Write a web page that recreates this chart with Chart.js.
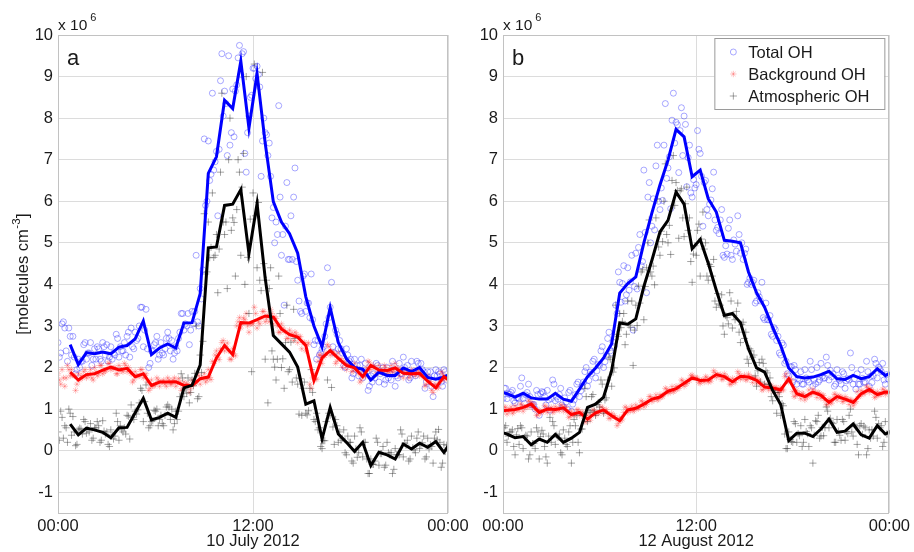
<!DOCTYPE html>
<html>
<head>
<meta charset="utf-8">
<script src="https://cdn.jsdelivr.net/npm/chart.js@4.4.0/dist/chart.umd.min.js"></script>
<style>
  html, body { margin: 0; padding: 0; background: #fff; }
  #wrap { position: relative; width: 914px; height: 552px; overflow: hidden; }
  canvas { position: absolute; top: 0; }
  #panel-a { left: 0; width: 480px; height: 552px; }
  #panel-b { left: 455px; width: 459px; height: 552px; }
</style>
</head>
<body>
<div id="wrap">
  <canvas id="panel-a" width="480" height="552"></canvas>
  <canvas id="panel-b" width="459" height="552"></canvas>
</div>
<script>
// half-hour means, centred on hh:15 / hh:45 (first slot -00:15, last 24:15)
const halfHours = Array.from({ length: 50 }, (_, i) => -0.25 + 0.5 * i);
// raw samples every 10 minutes, two interleaved runs: hh:05, hh:15 ... and hh:00, hh:10 ...
const rawTimes05 = Array.from({ length: 144 }, (_, i) => (5 + 10 * i) / 60);
const rawTimes00 = Array.from({ length: 144 }, (_, i) => (10 * i) / 60);

const xTicks = [0, 12, 24];
const xTickLabels = ['00:00', '12:00', '00:00'];
const yTicks = [-1, 0, 1, 2, 3, 4, 5, 6, 7, 8, 9, 10];

// ---- 10 July 2012 (x 10^6 molecules cm-3) ----
const totalA = [null, null, 2.55, 2.07, 2.36, 2.33, 2.37, 2.33, 2.49, 2.53, 2.69, 3.12, 2.31, 2.47, 2.57, 2.47,
  3.07, 3.08, 3.78, 6.67, 7.07, 8.43, 8.23, 9.37, 7.76, 9.07, 7.4, 5.99, 5.5, 5.22, 4.75, 3.7, 3.0, 2.5, 3.44,
  2.6, 2.21, 2.0, 1.96, 1.7, 1.89, 1.81, 1.81, 1.99, 1.9, 2.0, 1.76, 1.72, 1.77, 1.86];
const backgroundA = [null, null, 1.89, 1.70, 1.83, 1.85, 1.94, 2.01, 1.94, 1.98, 1.78, 1.85, 1.57, 1.65, 1.65, 1.66,
  1.57, 1.57, 1.73, 1.77, 2.23, 2.53, 2.31, 3.08, 3.07, 3.15, 3.24, 3.21, 2.93, 2.79, 2.73, 2.53, 1.69, 2.23, 2.41,
  2.22, 2.05, 1.99, 1.78, 2.05, 1.94, 1.93, 1.99, 1.86, 1.85, 1.86, 1.67, 1.51, 1.78, 1.65];
const atmosA = [null, null, 0.64, 0.38, 0.54, 0.50, 0.44, 0.31, 0.55, 0.56, 0.91, 1.26, 0.74, 0.80, 0.90, 0.80,
  1.51, 1.57, 2.06, 4.88, 4.90, 5.90, 5.93, 6.28, 4.74, 5.94, 4.15, 2.77, 2.57, 2.37, 2.01, 1.12, 1.20, 0.28, 1.04,
  0.40, 0.20, -0.02, 0.20, -0.36, -0.04, -0.10, -0.20, 0.16, 0.04, 0.18, 0.08, 0.22, -0.04, 0.25];

const totalRawA05 = [
  2.25, 3.05, 2.95, 2.15, 2.75, 2.75, 1.85, 2.2, 2.15, 2.55, 2.2, 2.35,
  2.05, 2.45, 2.5, 2.2, 2.6, 2.3, 2.15, 2.5, 2.35, 2.8, 2.25, 2.4,
  2.6, 2.75, 2.25, 2.5, 2.85, 2.7, 3.45, 2.5, 3.4, 2.0, 2.4, 2.55,
  2.75, 2.3, 2.35, 2.45, 2.85, 2.4, 2.2, 2.5, 2.7, 3.3, 2.9, 3.0,
  2.55, 3.35, 3.35, 3.1, 3.9, 4.35, 5.9, 7.45, 6.65, 6.75, 7.2, 7.25,
  9.55, 8.65, 7.1, 7.35, 8.7, 8.65, 9.45, 9.05, 9.6, 6.7, 8.05, 8.55,
  9.2, 9.25, 8.75, 7.45, 7.65, 7.1, 6.6, 5.85, 5.5, 8.3, 4.7, 3.5,
  6.45, 4.6, 4.6, 6.8, 4.1, 3.35, 4.2, 3.35, 3.55, 4.25, 2.55, 2.2,
  2.3, 2.45, 2.75, 4.4, 3.45, 2.5, 2.9, 2.45, 2.45, 2.05, 2.45, 2.15,
  1.75, 2.2, 2.05, 2.05, 1.75, 2.1, 1.45, 1.8, 1.85, 2.1, 1.65, 1.9,
  1.6, 2.0, 1.85, 2.15, 1.55, 1.75, 1.85, 2.25, 1.9, 1.7, 2.15, 1.85,
  2.15, 1.9, 1.95, 1.5, 1.9, 1.9, 1.3, 1.95, 1.9, 1.65, 1.95, 1.7];
const totalRawA00 = [
  2.6, 2.35, 3.1, 2.4, 2.95, 2.3, 2.25, 1.95, 2.0, 2.15, 2.6, 2.35,
  2.6, 2.2, 2.2, 2.45, 2.15, 2.5, 2.55, 2.25, 2.2, 2.3, 2.7, 2.5,
  2.4, 2.3, 2.85, 2.95, 2.45, 2.65, 3.0, 3.45, 2.9, 2.45, 2.1, 2.4,
  2.6, 2.2, 2.6, 2.3, 2.7, 2.7, 2.65, 2.35, 2.4, 2.85, 3.3, 3.05,
  3.3, 2.9, 3.05, 4.7, 3.0, 3.65, 7.5, 6.0, 6.5, 8.6, 6.95, 5.65,
  8.9, 8.05, 8.35, 9.5, 7.65, 7.55, 8.8, 9.75, 9.55, 7.15, 7.65, 8.5,
  9.2, 8.95, 9.05, 6.6, 8.0, 7.6, 7.4, 5.6, 5.0, 5.2, 6.1, 5.2,
  5.4, 4.6, 5.65, 6.1, 4.55, 3.6, 3.3, 4.25, 3.55, 3.2, 3.15, 2.65,
  2.65, 2.35, 2.5, 3.05, 3.2, 4.05, 2.35, 2.8, 2.65, 2.35, 2.0, 2.3,
  2.2, 1.85, 1.95, 1.8, 2.2, 1.9, 1.9, 1.55, 1.65, 1.75, 2.05, 1.85,
  2.0, 1.7, 1.75, 1.7, 1.95, 1.8, 2.1, 1.85, 2.0, 2.05, 1.75, 1.9,
  1.8, 2.1, 2.1, 1.9, 1.65, 1.75, 1.55, 1.8, 1.8, 1.85, 1.55, 1.9];
const bgRawA05 = [
  1.7, 1.95, 1.55, 2.05, 1.8, 1.82, 1.45, 1.85, 1.8, 1.9, 1.75, 1.84,
  1.75, 2.0, 1.8, 2.05, 1.85, 1.92, 2.1, 1.95, 1.98, 1.85, 2.05, 1.92,
  2.1, 1.9, 1.94, 1.65, 1.9, 1.79, 1.95, 1.75, 1.85, 1.45, 1.7, 1.56,
  1.75, 1.55, 1.65, 1.6, 1.75, 1.6, 1.7, 1.55, 1.73, 1.45, 1.65, 1.61,
  1.4, 1.7, 1.61, 1.85, 1.6, 1.74, 1.65, 1.95, 1.71, 2.1, 2.4, 2.19,
  2.6, 2.4, 2.59, 2.2, 2.45, 2.28, 3.1, 2.95, 3.19, 3.3, 2.85, 3.06,
  3.45, 2.95, 3.05, 3.35, 3.1, 3.27, 3.4, 3.05, 3.18, 2.85, 3.05, 2.89,
  2.7, 2.9, 2.77, 2.85, 2.6, 2.74, 2.6, 2.4, 2.59, 1.5, 1.85, 1.72,
  2.3, 2.1, 2.29, 2.55, 2.3, 2.38, 2.1, 2.35, 2.21, 2.15, 1.95, 2.05,
  1.9, 2.1, 1.97, 1.65, 1.9, 1.79, 2.15, 1.95, 2.05, 1.85, 2.05, 1.92,
  2.05, 1.85, 1.89, 1.9, 2.1, 1.97, 1.95, 1.75, 1.88, 1.75, 1.95, 1.85,
  1.95, 1.8, 1.83, 1.55, 1.8, 1.66, 1.4, 1.6, 1.53, 1.9, 1.7, 1.74];
const bgRawA00 = [
  1.85, 1.6, 1.75, 1.75, 1.95, 1.95, 1.8, 1.6, 1.7, 1.75, 1.95, 1.8,
  1.95, 1.7, 1.9, 1.85, 2.05, 1.9, 1.95, 2.1, 1.98, 2.0, 1.85, 1.97,
  1.9, 2.05, 2.0, 1.85, 1.7, 1.8, 1.8, 1.95, 1.8, 1.65, 1.5, 1.55,
  1.6, 1.7, 1.65, 1.7, 1.55, 1.7, 1.6, 1.75, 1.63, 1.65, 1.5, 1.56,
  1.6, 1.5, 1.6, 1.65, 1.8, 1.74, 1.85, 1.7, 1.76, 2.15, 2.3, 2.25,
  2.45, 2.65, 2.5, 2.4, 2.2, 2.33, 3.0, 3.2, 3.05, 3.15, 3.0, 3.05,
  3.05, 3.3, 3.1, 3.2, 3.35, 3.17, 3.1, 3.3, 3.22, 3.0, 2.85, 2.95,
  2.85, 2.7, 2.82, 2.65, 2.8, 2.74, 2.45, 2.6, 2.55, 1.6, 1.75, 1.72,
  2.15, 2.3, 2.24, 2.35, 2.5, 2.38, 2.3, 2.15, 2.21, 2.0, 2.1, 2.05,
  2.05, 1.92, 2.0, 1.85, 1.7, 1.79, 2.0, 2.12, 2.03, 2.0, 1.88, 1.94,
  1.88, 2.0, 1.91, 2.05, 1.92, 2.0, 1.8, 1.92, 1.86, 1.9, 1.8, 1.85,
  1.8, 1.92, 1.86, 1.75, 1.6, 1.66, 1.45, 1.58, 1.5, 1.72, 1.85, 1.77];
const atmRawA05 = [
  0.25, 0.8, 0.6, 0.2, 0.9, 0.82, 0.12, 0.5, 0.52, 0.75, 0.42, 0.45,
  0.25, 0.55, 0.7, 0.2, 0.72, 0.4, 0.15, 0.5, 0.28, 0.9, 0.25, 0.5,
  0.55, 0.85, 0.28, 0.8, 0.95, 0.98, 1.5, 0.7, 1.58, 0.55, 0.7, 0.97,
  1.0, 0.75, 0.65, 0.85, 1.1, 0.75, 0.5, 0.95, 0.95, 1.85, 1.3, 1.38,
  1.15, 1.7, 1.86, 1.25, 2.3, 2.63, 4.25, 5.5, 4.89, 4.65, 5.2, 4.85,
  8.6, 5.2, 3.9, 8.0, 5.6, 4.2, 7.0, 4.7, 7.15, 9.0, 3.3, 1.9,
  9.3, 4.4, 4.1, 9.1, 2.2, 1.15, 4.4, 2.2, 1.7, 4.2, 2.0, 1.5,
  3.5, 1.95, 1.65, 2.7, 1.6, 1.73, 1.5, 0.9, 0.96, 1.95, 0.75, 0.9,
  0.55, 0.05, 0.24, 1.7, 0.85, 0.57, 0.75, 0.2, 0.25, 0.5, -0.1, 0.2,
  -0.25, 0.35, -0.16, 0.55, -0.15, 0.2, -0.55, -0.2, -0.33, 0.3, -0.35, -0.07,
  -0.4, 0.2, -0.1, -0.55, 0.05, -0.1, 0.5, -0.15, 0.13, -0.25, 0.35, 0.02,
  0.3, 0.05, 0.19, -0.2, 0.3, 0.14, -0.3, 0.45, 0.51, -0.4, 0.15, 0.13];
const atmRawA00 = [
  0.45, 0.95, 0.3, 0.55, 1.0, 0.37, 0.45, 0.15, 0.54, 0.4, 0.7, 0.52,
  0.65, 0.3, 0.55, 0.6, 0.25, 0.47, 0.45, 0.1, 0.38, 0.35, 0.7, 0.6,
  0.45, 0.4, 0.83, 1.1, 0.75, 0.88, 1.15, 1.45, 1.18, 0.9, 0.6, 0.72,
  0.95, 0.6, 0.85, 0.6, 1.05, 1.05, 1.0, 0.65, 0.75, 1.3, 1.75, 1.48,
  1.75, 1.4, 1.56, 3.0, 1.3, 1.88, 5.7, 4.3, 4.64, 6.2, 4.7, 3.8,
  6.7, 5.5, 5.5, 7.0, 5.3, 5.49, 5.8, 6.7, 6.34, 4.0, 4.65, 5.57,
  6.2, 5.65, 5.97, 3.85, 4.5, 4.1, 3.9, 2.4, 2.01, 2.2, 3.3, 2.21,
  2.6, 1.9, 2.61, 3.4, 1.75, 0.88, 0.85, 1.65, 0.86, 1.5, 1.4, 0.7,
  0.5, 0.1, 0.24, 0.7, 0.9, 1.52, 0.15, 0.6, 0.45, 0.3, -0.05, 0.35,
  0.2, -0.3, 0.04, -0.05, 0.45, 0.2, -0.2, -0.55, -0.33, -0.25, 0.2, -0.07,
  0.1, -0.35, -0.05, -0.05, -0.45, -0.1, -0.1, 0.4, 0.18, 0.25, -0.2, 0.07,
  -0.05, 0.45, 0.14, 0.35, -0.15, 0.04, 0.1, 0.3, 0.26, 0.2, -0.3, -0.02];

// ---- 12 August 2012 ----
const totalB = [1.43, 1.37, 1.29, 1.38, 1.27, 1.24, 1.24, 1.38, 1.24, 1.19, 1.48, 1.78, 1.99, 2.23, 2.57, 3.79,
  4.02, 4.18, 5.0, 5.72, 6.39, 6.99, 7.73, 7.55, 6.59, 6.75, 6.06, 5.74, 5.06, 5.04, 5.0, 4.3, 3.8, 3.45, 2.97,
  2.53, 1.99, 1.78, 1.75, 1.77, 1.83, 1.91, 1.73, 1.71, 1.81, 1.73, 1.78, 1.97, 1.81, 1.9];
const backgroundB = [0.95, 0.97, 0.99, 1.04, 1.12, 0.92, 1.0, 0.99, 1.03, 0.87, 0.92, 0.76, 0.91, 0.98, 0.84, 0.72,
  0.98, 1.02, 1.12, 1.24, 1.29, 1.43, 1.49, 1.62, 1.75, 1.69, 1.70, 1.83, 1.78, 1.66, 1.79, 1.77, 1.69, 1.53, 1.51,
  1.46, 1.73, 1.37, 1.30, 1.41, 1.33, 1.16, 1.30, 1.24, 1.16, 1.37, 1.47, 1.35, 1.41, 1.40];
const atmosB = [0.46, 0.40, 0.31, 0.34, 0.14, 0.28, 0.20, 0.39, 0.20, 0.30, 0.44, 1.04, 1.12, 1.29, 1.93, 3.07,
  3.04, 3.17, 3.95, 4.58, 5.26, 5.54, 6.22, 5.93, 4.86, 5.08, 4.51, 3.86, 3.25, 3.30, 3.08, 2.45, 1.99, 1.89, 1.45,
  1.11, 0.24, 0.42, 0.42, 0.34, 0.52, 0.76, 0.44, 0.47, 0.64, 0.38, 0.30, 0.60, 0.40, 0.50];

const totalRawB05 = [
  1.5, 1.25, 1.36, 1.45, 1.15, 1.27, 1.55, 1.25, 1.34, 1.6, 1.1, 1.11,
  1.45, 0.85, 1.42, 1.3, 1.45, 0.97, 1.7, 1.2, 1.24, 1.5, 1.05, 1.17,
  1.4, 0.95, 1.22, 1.6, 1.3, 1.54, 1.9, 1.55, 1.89, 2.15, 1.75, 2.07,
  2.4, 2.0, 2.29, 2.85, 2.35, 2.51, 3.3, 4.05, 4.02, 3.6, 4.4, 4.06,
  2.9, 4.75, 4.89, 4.45, 6.75, 3.8, 6.45, 5.4, 5.31, 7.35, 5.8, 6.02,
  8.35, 6.8, 5.82, 8.6, 7.9, 6.69, 8.25, 8.05, 6.35, 7.35, 6.1, 6.32,
  7.7, 7.15, 5.4, 6.5, 5.65, 6.03, 6.7, 5.3, 5.22, 5.8, 4.65, 4.73,
  5.55, 4.6, 4.97, 5.65, 4.75, 4.6, 4.85, 4.05, 4.0, 4.1, 3.6, 3.7,
  4.05, 3.15, 3.15, 3.25, 2.75, 2.91, 2.75, 2.3, 2.54, 2.15, 1.8, 2.02,
  2.05, 1.6, 1.69, 1.6, 1.95, 1.7, 2.15, 1.55, 1.61, 1.65, 2.1, 1.74,
  2.25, 1.7, 1.78, 1.55, 1.95, 1.69, 1.9, 1.5, 1.73, 2.35, 1.6, 1.48,
  1.6, 1.95, 1.64, 2.15, 1.55, 1.64, 2.2, 1.75, 1.96, 2.1, 1.6, 1.73];
const totalRawB00 = [
  1.25, 1.5, 1.36, 1.4, 1.2, 1.27, 1.25, 1.75, 1.14, 1.4, 1.3, 1.11,
  1.0, 1.35, 1.37, 1.4, 1.1, 1.22, 1.25, 1.6, 1.29, 1.35, 1.1, 1.27,
  1.0, 1.45, 1.12, 1.35, 1.65, 1.44, 1.65, 2.0, 1.69, 1.85, 2.2, 1.92,
  2.05, 2.5, 2.14, 2.7, 2.4, 2.61, 3.5, 4.3, 3.57, 4.45, 3.75, 3.86,
  4.7, 3.95, 3.89, 5.2, 4.55, 5.25, 6.1, 5.0, 6.06, 6.85, 6.0, 6.32,
  7.35, 6.55, 7.07, 7.95, 7.4, 7.84, 7.7, 7.1, 7.85, 7.05, 6.2, 6.52,
  6.4, 7.25, 6.6, 6.45, 5.8, 5.93, 6.3, 5.55, 5.37, 5.55, 4.7, 4.93,
  5.35, 4.7, 5.07, 4.8, 5.2, 5.0, 4.75, 4.0, 4.15, 4.05, 3.55, 3.8,
  3.6, 3.2, 3.55, 3.15, 2.8, 2.96, 2.65, 2.35, 2.59, 2.1, 1.85, 2.02,
  1.65, 1.95, 1.74, 1.9, 1.6, 1.75, 1.65, 1.95, 1.71, 2.0, 1.7, 1.79,
  1.75, 2.05, 1.93, 1.85, 1.6, 1.74, 1.6, 1.85, 1.68, 1.7, 2.0, 1.73,
  1.85, 1.6, 1.74, 1.65, 1.9, 1.79, 1.8, 2.1, 2.01, 1.9, 1.7, 1.83];
const bgRawB05 = [
  1.05, 0.88, 0.98, 0.9, 1.08, 0.99, 1.12, 0.95, 1.05, 1.2, 1.05, 1.11,
  0.85, 0.98, 0.93, 1.08, 0.92, 1.0, 0.92, 1.06, 0.99, 1.1, 0.95, 1.04,
  0.8, 0.95, 0.86, 0.98, 0.85, 0.93, 0.7, 0.85, 0.73, 0.98, 0.85, 0.9,
  1.05, 0.9, 0.99, 0.78, 0.9, 0.84, 0.6, 0.8, 0.76, 1.05, 0.92, 0.97,
  0.95, 1.1, 1.01, 1.2, 1.05, 1.11, 1.3, 1.18, 1.24, 1.22, 1.35, 1.3,
  1.5, 1.38, 1.41, 1.42, 1.55, 1.5, 1.7, 1.55, 1.61, 1.68, 1.82, 1.75,
  1.75, 1.62, 1.7, 1.78, 1.65, 1.67, 1.92, 1.76, 1.81, 1.72, 1.85, 1.77,
  1.6, 1.74, 1.64, 1.9, 1.72, 1.75, 1.7, 1.84, 1.77, 1.75, 1.62, 1.7,
  1.46, 1.6, 1.53, 1.58, 1.44, 1.51, 1.4, 1.52, 1.46, 1.85, 1.65, 1.69,
  1.3, 1.45, 1.36, 1.38, 1.22, 1.3, 1.35, 1.48, 1.4, 1.4, 1.26, 1.33,
  1.1, 1.24, 1.14, 1.36, 1.22, 1.32, 1.18, 1.3, 1.24, 1.22, 1.08, 1.18,
  1.3, 1.45, 1.36, 1.55, 1.4, 1.46, 1.28, 1.42, 1.35, 1.48, 1.35, 1.4];
const bgRawB00 = [
  0.92, 1.04, 0.95, 1.05, 0.93, 0.99, 0.98, 1.1, 1.04, 1.05, 1.18, 1.13,
  0.98, 0.86, 0.92, 0.95, 1.06, 0.99, 1.04, 0.94, 0.99, 0.97, 1.08, 1.04,
  0.92, 0.82, 0.87, 0.87, 0.98, 0.91, 0.82, 0.7, 0.76, 0.86, 0.96, 0.91,
  0.93, 1.04, 0.97, 0.9, 0.78, 0.84, 0.78, 0.66, 0.72, 0.92, 1.03, 0.99,
  1.07, 0.97, 1.02, 1.06, 1.17, 1.13, 1.19, 1.3, 1.23, 1.34, 1.24, 1.29,
  1.37, 1.48, 1.44, 1.54, 1.44, 1.49, 1.57, 1.68, 1.61, 1.7, 1.8, 1.75,
  1.74, 1.64, 1.69, 1.65, 1.76, 1.69, 1.78, 1.88, 1.83, 1.83, 1.72, 1.79,
  1.72, 1.6, 1.66, 1.74, 1.85, 1.78, 1.82, 1.71, 1.78, 1.64, 1.75, 1.68,
  1.58, 1.47, 1.54, 1.46, 1.56, 1.51, 1.51, 1.41, 1.46, 1.78, 1.68, 1.73,
  1.42, 1.32, 1.37, 1.25, 1.36, 1.29, 1.46, 1.36, 1.41, 1.28, 1.38, 1.33,
  1.21, 1.11, 1.16, 1.25, 1.35, 1.3, 1.29, 1.19, 1.24, 1.11, 1.22, 1.15,
  1.42, 1.31, 1.38, 1.42, 1.52, 1.47, 1.4, 1.3, 1.35, 1.36, 1.46, 1.41];
const atmRawB05 = [
  0.55, 0.2, 0.45, 0.5, -0.1, 0.53, 0.6, 0.05, 0.37, -0.2, 0.45, 0.17,
  0.55, -0.2, 0.49, 0.1, -0.3, 0.8, 0.7, 0.15, 0.32, -0.05, 0.5, 0.15,
  0.45, -0.3, 0.75, 0.85, -0.05, 0.52, 1.5, 0.7, 0.92, 1.35, 0.85, 1.16,
  1.7, 0.9, 1.27, 2.25, 1.55, 1.99, 2.8, 3.3, 3.11, 2.55, 3.6, 2.97,
  2.05, 3.5, 3.96, 4.3, 3.15, 4.4, 5.55, 4.2, 3.99, 6.05, 4.7, 5.03,
  6.9, 5.0, 4.72, 7.1, 6.45, 5.11, 6.3, 5.15, 6.34, 5.6, 4.05, 4.93,
  5.3, 4.2, 5.74, 5.0, 4.1, 4.43, 4.6, 3.45, 3.53, 3.75, 2.8, 3.2,
  3.8, 2.95, 3.15, 3.55, 2.6, 3.09, 2.85, 2.1, 2.4, 2.3, 1.55, 2.12,
  2.2, 1.6, 1.87, 1.75, 1.2, 1.4, 1.4, 0.85, 1.08, 0.05, 0.45, 0.22,
  0.7, 0.2, 0.36, 0.1, 0.75, 0.41, 0.6, -0.3, 0.72, 0.85, 0.35, 0.36,
  1.05, 0.55, 0.68, 0.2, 0.75, 0.37, 0.75, 0.25, 0.41, 1.0, 0.35, 0.57,
  -0.1, 0.65, 0.59, -0.1, 0.5, 0.5, 0.95, 0.3, 0.55, 0.1, 0.7, 0.4];
const atmRawB00 = [
  0.25, 0.6, 0.35, 0.45, 0.1, 0.38, 0.15, 0.55, 0.32, 0.35, -0.1, 0.17,
  0.05, 0.45, 0.34, 0.4, -0.15, 0.35, 0.2, 0.6, 0.37, 0.4, -0.1, 0.3,
  0.1, 0.6, 0.2, 0.6, 0.2, 0.52, 0.85, 1.3, 0.97, 1.3, 0.95, 1.11,
  1.05, 1.6, 1.22, 1.7, 2.2, 1.89, 3.5, 2.75, 2.96, 3.3, 2.8, 3.02,
  3.6, 2.9, 3.01, 3.55, 4.35, 3.95, 5.0, 4.3, 4.44, 5.6, 4.9, 5.28,
  6.0, 5.2, 5.42, 6.5, 5.9, 6.26, 6.25, 5.6, 5.94, 5.3, 4.55, 4.73,
  4.7, 5.45, 5.09, 4.85, 4.2, 4.48, 4.2, 3.6, 3.78, 3.5, 3.0, 3.25,
  3.05, 3.6, 3.25, 3.35, 2.85, 3.04, 2.7, 2.2, 2.45, 2.25, 1.8, 1.92,
  1.65, 2.1, 1.92, 1.6, 1.3, 1.45, 0.9, 1.3, 1.13, 0.4, 0.05, 0.27,
  0.2, 0.65, 0.41, 0.6, 0.2, 0.46, 0.1, 0.55, 0.37, 0.7, 0.3, 0.56,
  0.55, 0.95, 0.78, 0.65, 0.2, 0.47, 0.25, 0.7, 0.46, 0.85, 0.45, 0.62,
  0.15, 0.6, 0.39, 0.55, 0.05, 0.3, 0.35, 0.8, 0.65, 0.6, 0.2, 0.4];

const FONT = "'Liberation Sans', Arial, Helvetica, sans-serif";
const TEXT = '#1a1a1a';
const GRID = '#dcdcdc';
const FRAME = '#c2c2c2';

const rawStyles = {
  total: { shape: 'circle', r: 3, color: 'rgba(40, 40, 255, 0.4)' },
  bg:    { shape: 'star',   r: 3.2, color: 'rgba(255, 40, 40, 0.28)' },
  atm:   { shape: 'cross',  r: 3.6, color: 'rgba(40, 40, 40, 0.42)' }
};

const toPts = (xs, ys) => xs.map((x, i) => ({ x, y: ys[i] }));

function lineSet(label, ys, color) {
  return {
    label, data: toPts(halfHours, ys), borderColor: color, backgroundColor: color,
    borderWidth: 3, pointRadius: 0, tension: 0, spanGaps: false, fill: false
  };
}

function rawSet(label, ys05, ys00, st) {
  return {
    label, data: toPts(rawTimes05, ys05).concat(toPts(rawTimes00, ys00)), showLine: false,
    pointStyle: st.shape, pointRadius: st.r, pointBorderWidth: 1,
    borderColor: st.color, backgroundColor: 'rgba(0,0,0,0)'
  };
}

function drawLegend(ctx, x, y) {
  const w = 170, h = 71;
  ctx.save();
  ctx.fillStyle = '#fff';
  ctx.fillRect(x, y, w, h);
  ctx.strokeStyle = '#9a9a9a';
  ctx.lineWidth = 1;
  ctx.strokeRect(x + 0.5, y + 0.5, w, h);
  const rows = [
    ['Total OH', rawStyles.total],
    ['Background OH', rawStyles.bg],
    ['Atmospheric OH', rawStyles.atm]
  ];
  ctx.font = `16.5px ${FONT}`;
  ctx.textBaseline = 'middle';
  rows.forEach(([label, st], i) => {
    const cy = y + 14 + i * 22;
    ctx.strokeStyle = st.color;
    Chart.helpers.drawPoint(ctx, { pointStyle: st.shape, radius: st.r, borderWidth: 1 }, x + 19, cy);
    ctx.fillStyle = TEXT;
    ctx.fillText(label, x + 34, cy + 1);
  });
  ctx.restore();
}

function drawYTitle(ctx, cx, cy) {
  const mainFont = `16.5px ${FONT}`, supFont = `11.5px ${FONT}`;
  ctx.save();
  ctx.translate(cx, cy);
  ctx.rotate(-Math.PI / 2);
  ctx.fillStyle = TEXT;
  ctx.textBaseline = 'middle';
  ctx.font = mainFont;
  const head = '[molecules cm', tail = ']';
  const w1 = ctx.measureText(head).width, w3 = ctx.measureText(tail).width;
  ctx.font = supFont;
  const w2 = ctx.measureText('-3').width;
  const x = -(w1 + w2 + w3 + 1) / 2;
  ctx.font = mainFont;
  ctx.fillText(head, x, 0);
  ctx.font = supFont;
  ctx.fillText('-3', x + w1 + 0.5, -6);
  ctx.font = mainFont;
  ctx.fillText(tail, x + w1 + w2 + 1, 0);
  ctx.restore();
}

function makePanel(id, p) {
  const decor = {
    id: 'decor',
    afterDraw(chart) {
      const { ctx, chartArea: a } = chart;
      ctx.save();
      // plot frame
      ctx.strokeStyle = FRAME;
      ctx.lineWidth = 1;
      ctx.strokeRect(Math.round(a.left) + 0.5, Math.round(a.top) + 0.5,
        Math.round(a.right - a.left) - 1, Math.round(a.bottom - a.top));
      ctx.fillStyle = TEXT;
      // panel letter
      ctx.font = `22px ${FONT}`;
      ctx.textBaseline = 'alphabetic';
      ctx.fillText(p.letter, a.left + 9, a.top + 30);
      // x 10^6 multiplier
      ctx.font = `15.5px ${FONT}`;
      ctx.fillText('x 10', a.left, a.top - 5);
      const w = ctx.measureText('x 10').width;
      ctx.font = `11px ${FONT}`;
      ctx.fillText('6', a.left + w + 3, a.top - 14);
      // date under the axis
      ctx.font = `16.5px ${FONT}`;
      ctx.textAlign = 'center';
      ctx.textBaseline = 'middle';
      ctx.fillText(p.dateLabel, chart.scales.x.getPixelForValue(12), 541);
      ctx.restore();
      if (p.yTitle) drawYTitle(ctx, 23, (a.top + a.bottom) / 2);
      if (p.legend) drawLegend(ctx, a.right - 175, a.top + 3);
    }
  };

  return new Chart(document.getElementById(id), {
    type: 'line',
    data: {
      datasets: [
        lineSet('Atmospheric OH mean', p.atmos, '#000000'),
        lineSet('Background OH mean', p.background, '#ff0000'),
        lineSet('Total OH mean', p.total, '#0000ff'),
        rawSet('Atmospheric OH', p.atmRaw[0], p.atmRaw[1], rawStyles.atm),
        rawSet('Background OH', p.bgRaw[0], p.bgRaw[1], rawStyles.bg),
        rawSet('Total OH', p.totalRaw[0], p.totalRaw[1], rawStyles.total)
      ]
    },
    options: {
      responsive: false,
      animation: false,
      devicePixelRatio: 1,
      layout: { padding: { left: 0, top: 35, right: p.padRight, bottom: 0 } },
      plugins: { legend: { display: false }, tooltip: { enabled: false } },
      scales: {
        x: {
          type: 'linear', min: 0, max: 24,
          afterBuildTicks: s => { s.ticks = xTicks.map(v => ({ value: v })); },
          afterFit: s => { s.height = 39; },
          grid: { color: GRID, drawTicks: false },
          border: { display: false },
          ticks: {
            autoSkip: false, maxRotation: 0, padding: 4, color: TEXT,
            font: { family: FONT, size: 16.5 },
            callback: v => xTickLabels[xTicks.indexOf(v)]
          }
        },
        y: {
          min: -1.5, max: 10,
          afterBuildTicks: s => { s.ticks = yTicks.map(v => ({ value: v })); },
          afterFit: s => { s.width = p.axisWidth; },
          grid: { color: GRID, drawTicks: false },
          border: { display: false },
          ticks: {
            padding: 5, color: TEXT,
            font: { family: FONT, size: 16.5 },
            callback: v => String(v)
          }
        }
      }
    },
    plugins: [decor]
  });
}

makePanel('panel-a', {
  total: totalA, background: backgroundA, atmos: atmosA,
  totalRaw: [totalRawA05, totalRawA00], bgRaw: [bgRawA05, bgRawA00], atmRaw: [atmRawA05, atmRawA00],
  letter: 'a', dateLabel: '10 July 2012', axisWidth: 58, padRight: 32, yTitle: true, legend: false
});

makePanel('panel-b', {
  total: totalB, background: backgroundB, atmos: atmosB,
  totalRaw: [totalRawB05, totalRawB00], bgRaw: [bgRawB05, bgRawB00], atmRaw: [atmRawB05, atmRawB00],
  letter: 'b', dateLabel: '12 August 2012', axisWidth: 48, padRight: 22, yTitle: false, legend: true
});
</script>
</body>
</html>
